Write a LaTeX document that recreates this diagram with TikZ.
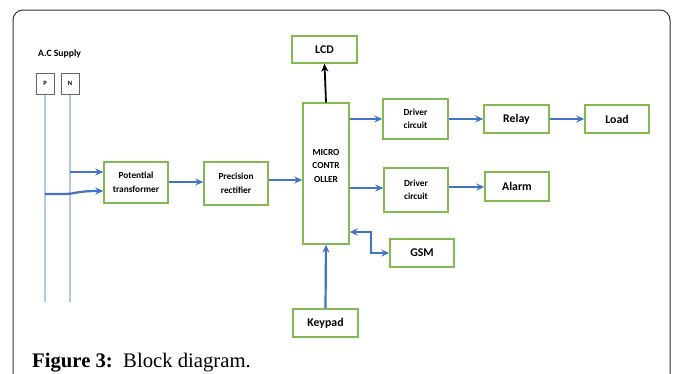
\documentclass[tikz,border=0pt]{standalone}
\usepackage{fontspec}
\setmainfont{Liberation Serif}
\setsansfont{Carlito}
\usepackage{tikz}
\usetikzlibrary{arrows.meta,calc}
\definecolor{boxgreen}{RGB}{130,185,80}
\definecolor{linkblue}{RGB}{68,114,196}
\definecolor{railblue}{RGB}{180,199,231}

\begin{document}
\begin{tikzpicture}[x=1pt,y=-1pt]
        %
        % `block' is used for every unit of the system.
        % `link' is used for the blue signal arrows.
        % `rail' is used for the two supply lines.
        \tikzstyle{block} = [draw=boxgreen,line width=1.4pt,fill=white,font=\sffamily\bfseries\fontsize{9.3}{13.5}\selectfont,align=center,inner sep=1pt]
        \tikzstyle{big} = [font=\sffamily\bfseries\fontsize{11.8}{13}\selectfont]
        \tikzstyle{link} = [draw=linkblue,line width=2.2pt,-{Stealth[length=8pt,width=7pt]}]
        \tikzstyle{rail} = [draw=railblue,line width=1.4pt]
        \tikzstyle{pin} = [draw=black!60,line width=1pt,minimum width=18pt,minimum height=21pt,inner sep=0pt,font=\sffamily\bfseries\fontsize{6.5}{7}\selectfont]
        %
        \useasboundingbox (0,0) rectangle (673,373);
        % Frame
        \draw[black!80,line width=1pt,rounded corners=10pt] (13,380) -- (13,10) -- (670,10) -- (670,380);
        %
        % Supply
        \node[font=\sffamily\bfseries\fontsize{9.7}{10}\selectfont,anchor=west,inner sep=0pt] (supply) at (38,54) {A.C Supply};
        \node[pin] (p) at (45,83.5) {P};
        \node[pin] (n) at (70,83.5) {N};
        \coordinate (pend) at (45,302);
        \coordinate (nend) at (70,302);
        \draw[rail] (p) -- (pend);
        \draw[rail] (n) -- (nend);
        %
        % Column 1
        \node[block,minimum width=64pt,minimum height=41pt] (trans) at (136,182.5) {Potential\\transformer};
        \node[block,minimum width=64pt,minimum height=43pt] (rect) at (236,183.5) {Precision\\rectifier};
        %
        % Column 2
        \node[block,minimum width=46pt,minimum height=141pt,text depth=16pt] (mcu) at (326,173.5) {MICRO\\CONTR\\OLLER};
        \node[block,big,minimum width=65pt,minimum height=27pt] (lcd) at (324.5,49.5) {LCD};
        \node[block,big,minimum width=65pt,minimum height=28pt] (keypad) at (325.5,323) {Keypad};
        %
        % Column 3
        \node[block,minimum width=65pt,minimum height=40pt] (drv1) at (415.5,119) {Driver\\circuit};
        \node[block,minimum width=64pt,minimum height=44pt] (drv2) at (416,190) {Driver\\circuit};
        \node[block,big,minimum width=64pt,minimum height=28pt] (gsm) at (422,253) {GSM};
        %
        % Column 4 and 5
        \node[block,big,minimum width=65pt,minimum height=28pt] (relay) at (516.5,119) {Relay};
        \node[block,big,minimum width=64pt,minimum height=29pt] (alarm) at (517,186.5) {Alarm};
        \node[block,big,minimum width=64pt,minimum height=28pt] (load) at (617,119) {Load};
        %
        % Taps on the supply lines
        \coordinate (ntap) at (70,172);
        \coordinate (ptap) at (45,194);
        \coordinate (ptin) at (0,191);
        \draw[link] (ntap) -- (ntap -| trans.west);
        \draw[link] (ptap) -- (66,194) .. controls (74,194) and (76,191) .. (ptin -| trans.west);
        %
        % Signal path
        \draw[link] (trans.east |- 0,182) -- (rect.west |- 0,182);
        \draw[link] (rect.east |- 0,180) -- (mcu.west |- 0,180);
        \draw[link] (mcu.east |- drv1) -- (drv1.west);
        \draw[link] (drv1.east) -- (relay.west);
        \draw[link] (relay.east) -- (load.west);
        \draw[link] (mcu.east |- 0,188) -- (drv2.west |- 0,188);
        \draw[link] (drv2.east |- 0,187) -- (alarm.west |- 0,187);
        \draw[link] (keypad.north) -- (mcu.south);
        \draw[line width=1.8pt,-{Stealth[length=8pt,width=7pt]}] (mcu.north) -- (lcd.south);
        %
        % GSM link goes both ways
        \coordinate (gsmtap) at (mcu.east |- 0,232);
        \draw[link,{Stealth[length=8pt,width=7pt]}-{Stealth[length=8pt,width=7pt]}] (gsmtap) -- ++(21,0) |- (gsm.west);
        %
        % Caption
        \node[anchor=base west,font=\fontsize{20.7}{23}\selectfont,inner sep=0pt] (caption) at (32,367) {\textbf{Figure 3:}\ \ Block diagram.};
        %
\end{tikzpicture}
\end{document}
